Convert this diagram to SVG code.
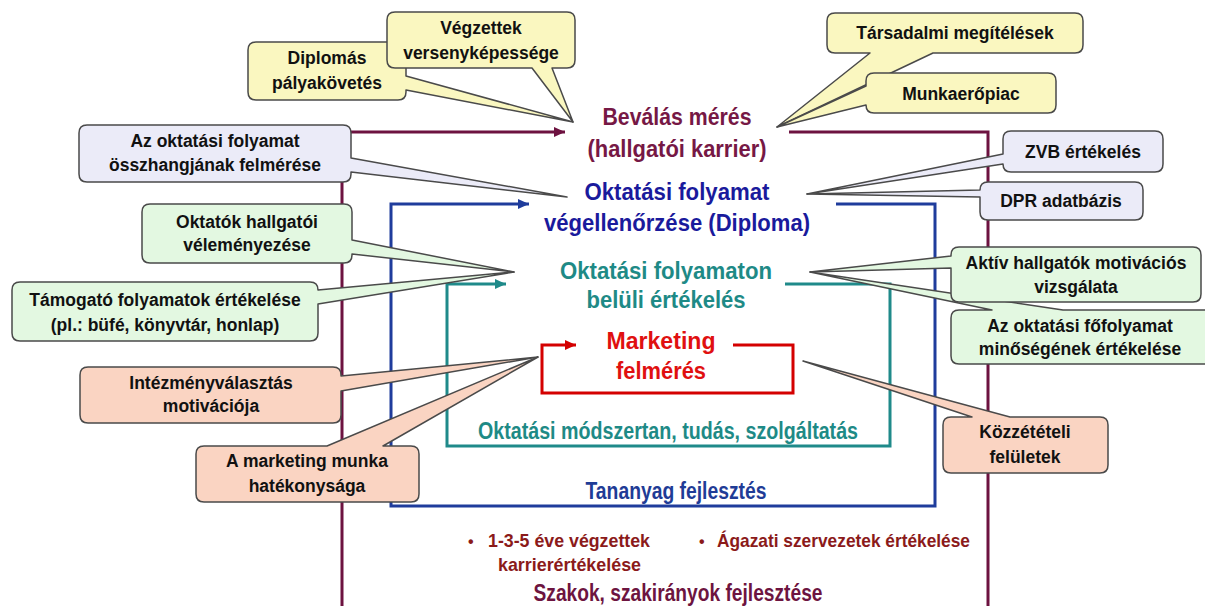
<svg xmlns="http://www.w3.org/2000/svg" width="1205" height="606" viewBox="0 0 1205 606">
<defs>
<style>
.ln{fill:none;stroke-width:3;stroke-linejoin:miter}
.co{stroke:#4a4a4a;stroke-width:1.5;stroke-linejoin:round}
.yel{fill:#FAF7C0}
.lav{fill:#EBEBF8}
.grn{fill:#E3F8E1}
.pch{fill:#FAD4C2}
.ct{font-family:"Liberation Sans",Arial,sans-serif;font-weight:bold;font-size:17.5px;fill:#111;text-anchor:middle}
.hd{font-family:"Liberation Sans",Arial,sans-serif;font-weight:bold;font-size:23px;text-anchor:middle}
</style>
<marker id="amar" markerUnits="userSpaceOnUse" markerWidth="12" markerHeight="10" refX="11" refY="5" orient="auto"><path d="M0,0 L11,5 L0,10 z" fill="#6D1240"/></marker>
<marker id="ablu" markerUnits="userSpaceOnUse" markerWidth="12" markerHeight="10" refX="11" refY="5" orient="auto"><path d="M0,0 L11,5 L0,10 z" fill="#1F3C9C"/></marker>
<marker id="atea" markerUnits="userSpaceOnUse" markerWidth="12" markerHeight="10" refX="11" refY="5" orient="auto"><path d="M0,0 L11,5 L0,10 z" fill="#1F8A8A"/></marker>
<marker id="ared" markerUnits="userSpaceOnUse" markerWidth="12" markerHeight="10" refX="11" refY="5" orient="auto"><path d="M0,0 L11,5 L0,10 z" fill="#D40000"/></marker>
</defs>
<rect width="1205" height="606" fill="#fff"/>
<g id="connectors">
<path class="ln" stroke="#6D1240" d="M342,606 V132 H565" marker-end="url(#amar)"/>
<path class="ln" stroke="#6D1240" d="M789,132 H988 V606"/>
<path class="ln" stroke="#1F3C9C" d="M836,204 H935 V506 H391 V204 H529" marker-end="url(#ablu)"/>
<path class="ln" stroke="#1F8A8A" d="M785,284 H890 V446 H447 V284 H506" marker-end="url(#atea)"/>
<path class="ln" stroke="#D40000" d="M733,345 H793 V393 H542 V345 H576" marker-end="url(#ared)"/>
</g>
<g id="n-bevalas">
<text class="hd" fill="#761845" x="677" y="125" textLength="149" lengthAdjust="spacingAndGlyphs">Beválás mérés</text>
<text class="hd" fill="#761845" x="677" y="157" textLength="179" lengthAdjust="spacingAndGlyphs">(hallgatói karrier)</text>
</g>
<g id="n-vegellenorzes">
<text class="hd" fill="#1A1A9C" x="677" y="200" textLength="185" lengthAdjust="spacingAndGlyphs">Oktatási folyamat</text>
<text class="hd" fill="#1A1A9C" x="677" y="231" textLength="266" lengthAdjust="spacingAndGlyphs">végellenőrzése (Diploma)</text>
</g>
<g id="n-belul">
<text class="hd" fill="#1E8A86" x="666" y="279" textLength="212" lengthAdjust="spacingAndGlyphs">Oktatási folyamaton</text>
<text class="hd" fill="#1E8A86" x="666" y="308" textLength="159" lengthAdjust="spacingAndGlyphs">belüli értékelés</text>
</g>
<g id="n-marketing">
<text class="hd" fill="#E01010" x="661" y="349" textLength="109" lengthAdjust="spacingAndGlyphs">Marketing</text>
<text class="hd" fill="#E01010" x="661" y="379" textLength="90" lengthAdjust="spacingAndGlyphs">felmérés</text>
</g>
<g id="n-modszertan">
<text class="hd" fill="#1E8A86" x="668" y="439" font-size="21" textLength="380" lengthAdjust="spacingAndGlyphs">Oktatási módszertan, tudás, szolgáltatás</text>
</g>
<g id="n-tananyag">
<text class="hd" fill="#1F3C96" x="676" y="499" font-size="21" textLength="181" lengthAdjust="spacingAndGlyphs">Tananyag fejlesztés</text>
</g>
<g id="n-bullets" font-family="Liberation Sans, Arial, sans-serif" font-weight="bold" font-size="19" fill="#8B1A1A">
<text x="468" y="547" font-size="16">•</text>
<text x="488" y="547" textLength="162" lengthAdjust="spacingAndGlyphs">1-3-5 éve végzettek</text>
<text x="498" y="571" textLength="143" lengthAdjust="spacingAndGlyphs">karrierértékelése</text>
<text x="699" y="547" font-size="16">•</text>
<text x="717" y="547" textLength="253" lengthAdjust="spacingAndGlyphs">Ágazati szervezetek értékelése</text>
</g>
<g id="n-szakok">
<text class="hd" fill="#6D1440" x="678" y="601" font-size="21" textLength="289" lengthAdjust="spacingAndGlyphs">Szakok, szakirányok fejlesztése</text>
</g>
<g id="c-diplomas">
<path class="co yel" d="M256,42 H398 Q406,42 406,50 V76 L573,122 L406,90 V92 Q406,100 398,100 H256 Q248,100 248,92 V50 Q248,42 256,42 Z"/>
<text class="ct" x="327" y="64">Diplomás</text>
<text class="ct" x="327" y="89">pályakövetés</text>
</g>
<g id="c-vegzettek">
<path class="co yel" d="M395,12 H567 Q575,12 575,20 V60 Q575,68 567,68 H552 L573,122 L532,68 H395 Q387,68 387,60 V20 Q387,12 395,12 Z"/>
<text class="ct" x="481" y="34">Végzettek</text>
<text class="ct" x="481" y="59">versenyképessége</text>
</g>
<g id="c-tarsadalmi">
<path class="co yel" d="M835,13 H1075 Q1083,13 1083,21 V45 Q1083,53 1075,53 H933 L777,127 L870,53 H835 Q827,53 827,45 V21 Q827,13 835,13 Z"/>
<text class="ct" x="955" y="39">Társadalmi megítélések</text>
</g>
<g id="c-munkaeropiac">
<path class="co yel" d="M874,73 H1048 Q1056,73 1056,81 V105 Q1056,113 1048,113 H874 Q866,113 866,105 L777,127 L866,86 V81 Q866,73 874,73 Z"/>
<text class="ct" x="961" y="100">Munkaerőpiac</text>
</g>
<g id="c-osszhang">
<path class="co lav" d="M87,125 H343 Q351,125 351,133 V158 L567,197 L351,172 V174 Q351,182 343,182 H87 Q79,182 79,174 V133 Q79,125 87,125 Z"/>
<text class="ct" x="215" y="147">Az oktatási folyamat</text>
<text class="ct" x="215" y="171">összhangjának felmérése</text>
</g>
<g id="c-zvb">
<path class="co lav" d="M1011,131 H1155 Q1163,131 1163,139 V164 Q1163,172 1155,172 H1011 Q1003,172 1003,164 L807,194 L1003,154 V139 Q1003,131 1011,131 Z"/>
<text class="ct" x="1083" y="158">ZVB értékelés</text>
</g>
<g id="c-dpr">
<path class="co lav" d="M988,182 H1135 Q1143,182 1143,190 V212 Q1143,220 1135,220 H988 Q980,220 980,212 V197 L807,194 L980,190 Q980,182 988,182 Z"/>
<text class="ct" x="1061" y="207">DPR adatbázis</text>
</g>
<g id="c-oktatok">
<path class="co grn" d="M150,204 H344 Q352,204 352,212 V240 L514,272 L352,254 V255 Q352,263 344,263 H150 Q142,263 142,255 V212 Q142,204 150,204 Z"/>
<text class="ct" x="247" y="228">Oktatók hallgatói</text>
<text class="ct" x="247" y="251">véleményezése</text>
</g>
<g id="c-tamogato">
<path class="co grn" d="M20,282 H310 Q318,282 318,290 L514,272 L318,304 V333 Q318,341 310,341 H20 Q12,341 12,333 V290 Q12,282 20,282 Z"/>
<text class="ct" x="165" y="306">Támogató folyamatok értékelése</text>
<text class="ct" x="165" y="331">(pl.: büfé, könyvtár, honlap)</text>
</g>
<g id="c-fofolyamat">
<path class="co grn" d="M959,310 H992 L810,272 L1063,310 H1204 Q1212,310 1212,318 V356 Q1212,364 1204,364 H959 Q951,364 951,356 V318 Q951,310 959,310 Z"/>
<text class="ct" x="1080" y="332">Az oktatási főfolyamat</text>
<text class="ct" x="1080" y="355">minőségének értékelése</text>
</g>
<g id="c-aktiv">
<path class="co grn" d="M959,247 H1193 Q1201,247 1201,255 V294 Q1201,302 1193,302 H959 Q951,302 951,294 V268 L810,272 L951,256 V255 Q951,247 959,247 Z"/>
<text class="ct" x="1076" y="269">Aktív hallgatók motivációs</text>
<text class="ct" x="1076" y="293">vizsgálata</text>
</g>
<g id="c-intezmeny">
<path class="co pch" d="M88,367 H333 Q341,367 341,375 V376 L538,357 L341,391 V415 Q341,423 333,423 H88 Q80,423 80,415 V375 Q80,367 88,367 Z"/>
<text class="ct" x="211" y="389">Intézményválasztás</text>
<text class="ct" x="211" y="412">motivációja</text>
</g>
<g id="c-hatekonysag">
<path class="co pch" d="M204,446 H327 L538,357 L383,446 H411 Q419,446 419,454 V494 Q419,502 411,502 H204 Q196,502 196,494 V454 Q196,446 204,446 Z"/>
<text class="ct" x="307" y="467">A marketing munka</text>
<text class="ct" x="307" y="492">hatékonysága</text>
</g>
<g id="c-kozzeteteli">
<path class="co pch" d="M951,417 H972 L803,361 L1010,417 H1100 Q1108,417 1108,425 V465 Q1108,473 1100,473 H951 Q943,473 943,465 V425 Q943,417 951,417 Z"/>
<text class="ct" x="1025" y="438">Közzétételi</text>
<text class="ct" x="1025" y="463">felületek</text>
</g>
</svg>
